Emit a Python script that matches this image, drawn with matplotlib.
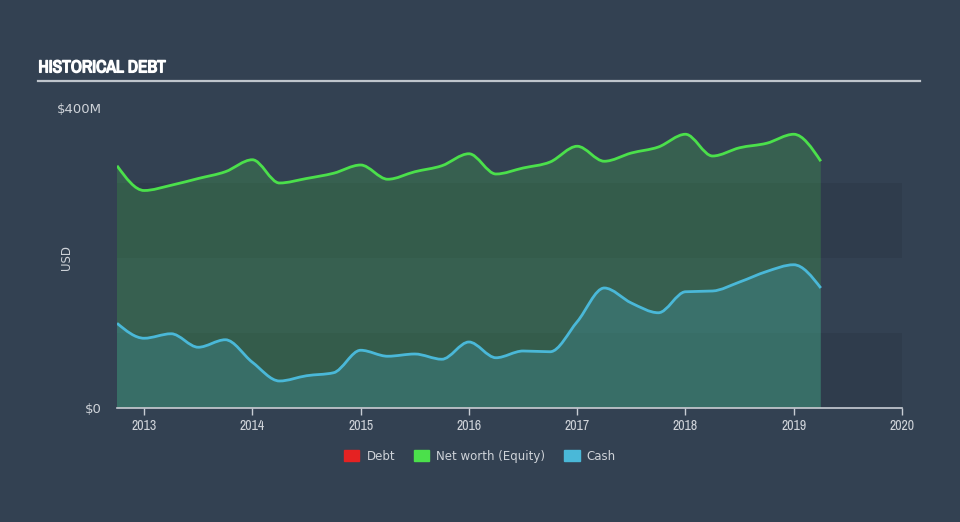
import numpy as np
import matplotlib.pyplot as plt
import matplotlib.patheffects as pe
from matplotlib.path import Path
from matplotlib.patches import PathPatch, Patch
from matplotlib import font_manager

# quarterly values, USD millions
dates = [2012.75, 2013.0, 2013.25, 2013.5, 2013.75, 2014.0, 2014.25, 2014.5, 2014.75,
         2015.0, 2015.25, 2015.5, 2015.75, 2016.0, 2016.25, 2016.5, 2016.75,
         2017.0, 2017.25, 2017.5, 2017.75, 2018.0, 2018.25, 2018.5, 2018.75,
         2019.0, 2019.25]
net_worth = [323, 290, 297, 306, 315, 331, 300, 306, 313, 324, 305, 315, 323, 339,
             312, 320, 328, 349, 329, 340, 348, 365, 336, 347, 353, 365, 329]
cash = [113, 93, 99, 81, 91, 61, 36, 43, 47, 77, 69, 72, 65, 88, 67, 76, 75,
        115, 160, 140, 127, 155, 156, 168, 182, 191, 160]
debt = [0] * len(dates)

years = [2013, 2014, 2015, 2016, 2017, 2018, 2019, 2020]

BG = '#334152'
TXT = '#cfd3d9'
GREEN = '#4be04b'
BLUE = '#4ab8d8'
RED = '#e52222'

names = sorted({f.name for f in font_manager.fontManager.ttflist})
narrow = [n for n in names if 'Narrow' in n or 'Condensed' in n]
NARROW = narrow[0] if narrow else 'DejaVu Sans'


def monotone_path(x, y, close=False):
    # monotone-x cubic segments, same as the d3 curve the original uses
    x = np.asarray(x, float)
    y = np.asarray(y, float)
    n = len(x)
    h = np.diff(x)
    s = np.diff(y) / h
    t = np.zeros(n)
    for i in range(1, n - 1):
        p = (s[i - 1] * h[i] + s[i] * h[i - 1]) / (h[i - 1] + h[i])
        t[i] = (np.sign(s[i - 1]) + np.sign(s[i])) * min(abs(s[i - 1]), abs(s[i]), 0.5 * abs(p))
    t[0] = (3 * s[0] - t[1]) / 2
    t[-1] = (3 * s[-1] - t[-2]) / 2
    verts = [(x[0], y[0])]
    codes = [Path.MOVETO]
    for i in range(n - 1):
        dx = h[i] / 3
        verts += [(x[i] + dx, y[i] + dx * t[i]), (x[i + 1] - dx, y[i + 1] - dx * t[i + 1]),
                  (x[i + 1], y[i + 1])]
        codes += [Path.CURVE4] * 3
    if close:
        verts += [(x[-1], 0), (x[0], 0), (x[0], y[0])]
        codes += [Path.LINETO, Path.LINETO, Path.CLOSEPOLY]
    return Path(verts, codes)


fig = plt.figure(figsize=(9.6, 5.22), dpi=100, facecolor=BG)
ax = fig.add_axes([0.1219, 0.2184, 0.8177, 0.5747])
ax.set_facecolor(BG)
ax.set_xlim(dates[0], 2020)
ax.set_ylim(0, 400)

# faint horizontal bands
for lo in (0, 200):
    ax.axhspan(lo, lo + 100, color='black', alpha=0.07, lw=0, zorder=0)

for vals, col in ((net_worth, GREEN), (cash, BLUE)):
    ax.add_patch(PathPatch(monotone_path(dates, vals, close=True), facecolor=col,
                           alpha=0.2, lw=0, zorder=1))
    ax.add_patch(PathPatch(monotone_path(dates, vals), facecolor='none', edgecolor=col,
                           lw=2, zorder=3))
ax.plot(dates, debt, color=RED, lw=1, alpha=0.6, zorder=3)

for sp in ['top', 'right', 'left']:
    ax.spines[sp].set_visible(False)
ax.spines['bottom'].set_color('#c8cdd4')
ax.spines['bottom'].set_linewidth(1.2)
ax.spines['bottom'].set_zorder(4)

ax.set_xticks(years)
ax.set_xticklabels([str(y) for y in years], family=NARROW)
ax.tick_params(axis='x', colors='#c8cdd4', length=5, width=1, labelcolor=TXT,
               labelsize=10, pad=3)
ax.set_yticks([0, 400])
ax.set_yticklabels(['$0', '$400M'])
ax.tick_params(axis='y', length=0, labelcolor=TXT, labelsize=9.5, pad=11)
ax.set_ylabel('USD', color=TXT, fontsize=8.5)
ax.yaxis.set_label_coords(-0.056, 0.5)

fig.text(0.040, 0.870, 'HISTORICAL DEBT', color='white', fontsize=12.5,
         fontweight='bold', family=NARROW, va='center', ha='left',
         path_effects=[pe.withStroke(linewidth=1.0, foreground='white')])
fig.add_artist(plt.Line2D([0.040, 0.958], [0.845, 0.845], color='#bfc5cc', lw=1.6))

handles = [Patch(color=RED, label='Debt'), Patch(color=GREEN, label='Net worth (Equity)'),
           Patch(color=BLUE, label='Cash')]
leg = fig.legend(handles=handles, loc='center', bbox_to_anchor=(0.5, 0.126), ncol=3,
                 frameon=False, fontsize=8.5, handlelength=1.3, handleheight=1.1,
                 handletextpad=0.6, columnspacing=1.6)
for t in leg.get_texts():
    t.set_color(TXT)

fig.savefig('out.png', dpi=100, facecolor=BG)
